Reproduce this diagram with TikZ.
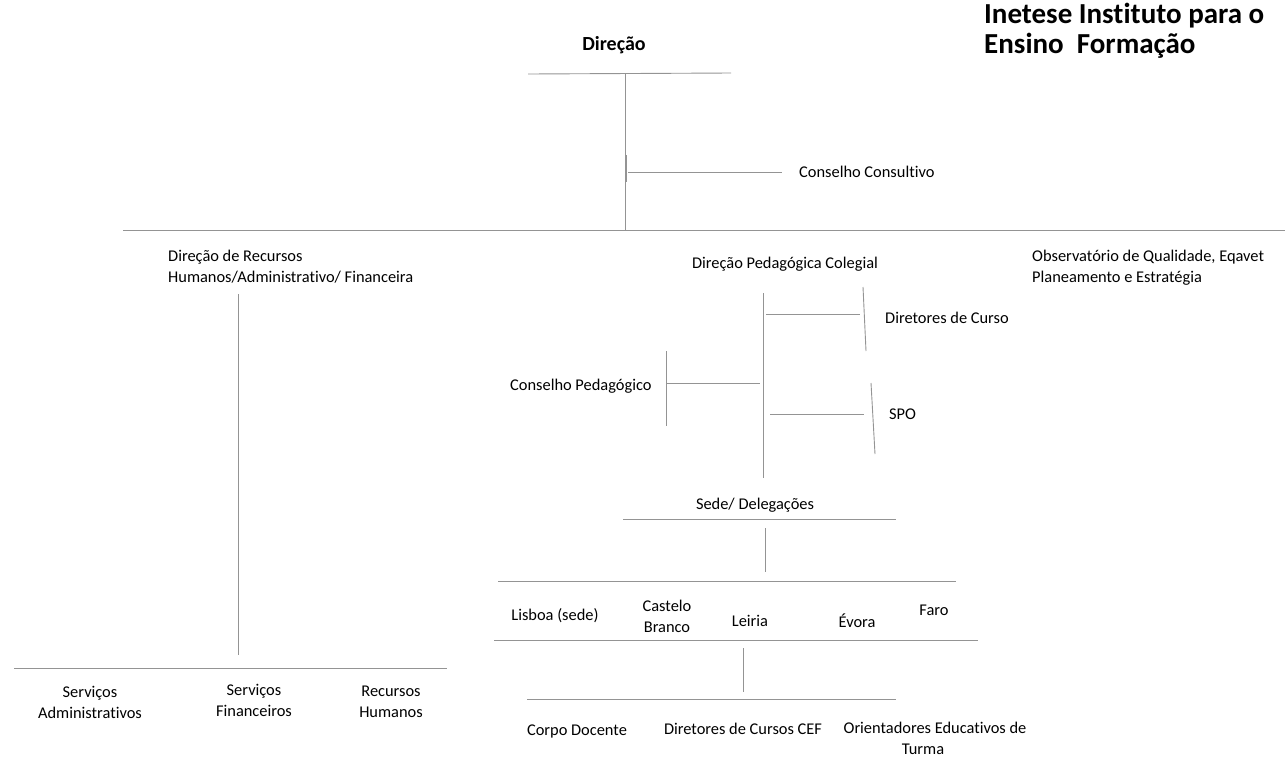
\documentclass[tikz,border=0pt]{standalone}
\usepackage{fontspec}
\setmainfont{Carlito}[Ligatures=NoCommon]
\begin{document}
\begin{tikzpicture}[x=1pt, y=-1pt,
    lbl/.style={inner sep=0pt, align=center, font=\fontsize{16.4}{21}\selectfont},
    lbll/.style={lbl, anchor=west, align=left},
    bar/.style={draw=black!42, line width=0.9pt}]
  \useasboundingbox (0, 0) rectangle (1285, 756);
  % titles
  \node[inner sep=0pt, anchor=west, align=left, font=\bfseries\fontsize{29}{30}\selectfont] (inst) at (984, 31) {Inetese Instituto para o\\Ensino~~Formação};
  \node[inner sep=0pt, font=\bfseries\fontsize{20}{24}\selectfont] (dir) at (614, 45) {Direção};
  % labels
  \node[lbll] (cc) at (799, 172) {Conselho Consultivo};
  \node[lbll] (drh) at (168, 267) {Direção de Recursos\\Humanos/Administrativo/ Financeira};
  \node[lbl] (sadm) at (90, 702) {Serviços\\Administrativos};
  \node[lbl] (sfin) at (254, 700) {Serviços\\Financeiros};
  \node[lbl] (rh) at (391, 702) {Recursos\\Humanos};
  \node[lbl] (dpc) at (785, 264) {Direção Pedagógica Colegial};
  \node[lbll] (obs) at (1032, 268) {Observatório de Qualidade, Eqavet\\Planeamento e Estratégia};
  \node[lbll] (dcur) at (885, 318) {Diretores de Curso};
  \node[lbll] (cped) at (510, 386) {Conselho Pedagógico};
  \node[lbll] (spo) at (889, 414) {SPO};
  \node[lbl] (sede) at (755, 505) {Sede/ Delegações};
  \node[lbl] (lis) at (555, 616) {Lisboa (sede)};
  \node[lbl] (cb) at (667, 616) {Castelo\\Branco};
  \node[lbl] (lei) at (750, 621) {Leiria};
  \node[lbl] (evo) at (857, 621) {Évora};
  \node[lbl] (faro) at (934, 610) {Faro};
  \node[lbl] (cdoc) at (577, 731) {Corpo Docente};
  \node[lbl] (dcef) at (743, 729) {Diretores de Cursos CEF};
  \node[lbl] (ori) at (935, 738) {Orientadores Educativos de\\\hspace*{-24pt}Turma};
  % end points of the lines
  \coordinate (dirL) at (528, 74);
  \coordinate (dirR) at (731, 73);
  \coordinate (dirT) at (625, 74);
  \coordinate (dirB) at (625, 230);
  \coordinate (ccT) at (626, 155);
  \coordinate (ccB) at (626, 182);
  \coordinate (ccA) at (628, 172);
  \coordinate (ccZ) at (782, 172);
  \coordinate (mainL) at (123, 230);
  \coordinate (mainR) at (1285, 230);
  \coordinate (drhT) at (238, 294);
  \coordinate (drhB) at (238, 655);
  \coordinate (servL) at (14, 668);
  \coordinate (servR) at (447, 668);
  \coordinate (dpcT) at (763, 293);
  \coordinate (dpcB) at (763, 478);
  \coordinate (dcurA) at (766, 314);
  \coordinate (dcurZ) at (860, 314);
  \coordinate (dcurT) at (863, 287);
  \coordinate (dcurB) at (866, 351);
  \coordinate (cpedT) at (666, 351);
  \coordinate (cpedB) at (666, 426);
  \coordinate (cpedA) at (666, 383);
  \coordinate (cpedZ) at (760, 383);
  \coordinate (spoA) at (770, 414);
  \coordinate (spoZ) at (864, 414);
  \coordinate (spoT) at (871, 383);
  \coordinate (spoB) at (875, 454);
  \coordinate (sedeL) at (623, 519);
  \coordinate (sedeR) at (896, 519);
  \coordinate (sedeT) at (765, 528);
  \coordinate (sedeB) at (765, 572);
  \coordinate (delL) at (498, 581);
  \coordinate (delR) at (956, 581);
  \coordinate (cidL) at (494, 640);
  \coordinate (cidR) at (978, 640);
  \coordinate (cidT) at (743, 648);
  \coordinate (cidB) at (743, 692);
  \coordinate (docL) at (527, 699);
  \coordinate (docR) at (896, 699);
  % lines
  \draw[bar] (dirL) -- (dirR);
  \draw[bar] (dirT) -- (dirB);
  \draw[bar] (ccT) -- (ccB);
  \draw[bar] (ccA) -- (ccZ);
  \draw[bar] (mainL) -- (mainR);
  \draw[bar] (drhT) -- (drhB);
  \draw[bar] (servL) -- (servR);
  \draw[bar] (dpcT) -- (dpcB);
  \draw[bar] (dcurA) -- (dcurZ);
  \draw[bar] (dcurT) -- (dcurB);
  \draw[bar] (cpedT) -- (cpedB);
  \draw[bar] (cpedA) -- (cpedZ);
  \draw[bar] (spoA) -- (spoZ);
  \draw[bar] (spoT) -- (spoB);
  \draw[bar] (sedeL) -- (sedeR);
  \draw[bar] (sedeT) -- (sedeB);
  \draw[bar] (delL) -- (delR);
  \draw[bar] (cidL) -- (cidR);
  \draw[bar] (cidT) -- (cidB);
  \draw[bar] (docL) -- (docR);
\end{tikzpicture}
\end{document}
